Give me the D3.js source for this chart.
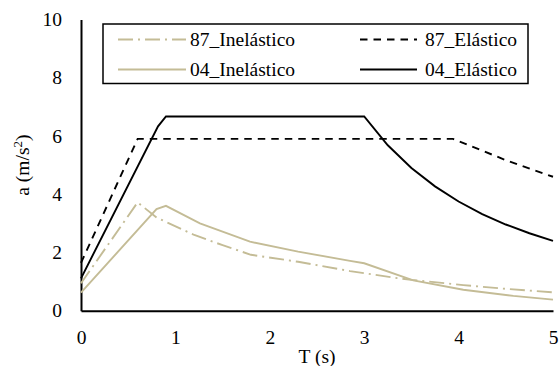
<!DOCTYPE html>
<html>
<head>
<meta charset="utf-8">
<script src="https://cdn.jsdelivr.net/npm/d3@7"></script>
<style>
  html, body { margin: 0; padding: 0; background: #fff; }
</style>
</head>
<body>
<div id="chart"></div>
<script>
var w = 560;
var h = 366;
var serif = "Liberation Serif";

// Periods (s) and spectral accelerations (m/s2)
var t87Inel = [0, 0.6, 0.8, 1.2, 1.5, 1.8, 2.3, 2.85, 3.35, 3.5, 4.05, 4.5, 5];
var a87Inel = [0.94, 3.72, 3.2, 2.6, 2.25, 1.92, 1.68, 1.36, 1.12, 1.06, 0.88, 0.75, 0.63];

var t87Elas = [0, 0.6, 3.94, 4.5, 5];
var a87Elas = [1.64, 5.9, 5.9, 5.17, 4.6];

var t04Inel = [0, 0.8, 0.9, 1.26, 1.79, 2.3, 2.85, 3.0, 3.52, 4.05, 4.58, 5];
var a04Inel = [0.62, 3.49, 3.6, 3.0, 2.37, 2.03, 1.71, 1.63, 1.04, 0.72, 0.51, 0.38];

var t04Elas = [0, 0.816, 0.9, 3.0, 3.25, 3.5, 3.75, 4.0, 4.25, 4.5, 4.75, 5];
var a04Elas = [1.11, 6.33, 6.67, 6.67, 5.68, 4.9, 4.27, 3.75, 3.32, 2.96, 2.66, 2.4];

var xTicks = [0, 1, 2, 3, 4, 5];
var yTicks = [0, 2, 4, 6, 8, 10];

var seriesNames = ["87_Inelástico", "87_Elástico", "04_Inelástico", "04_Elástico"];

var tan = "#c4bc96";
var series = [
    { name: seriesNames[0], t: t87Inel, a: a87Inel, color: tan, dash: "15,5,2,5" },
    { name: seriesNames[1], t: t87Elas, a: a87Elas, color: "#000", dash: "7.5,6" },
    { name: seriesNames[2], t: t04Inel, a: a04Inel, color: tan, dash: null },
    { name: seriesNames[3], t: t04Elas, a: a04Elas, color: "#000", dash: null }
];

var x = d3.scaleLinear().domain([0, 5]).range([81, 553]);
var y = d3.scaleLinear().domain([0, 10]).range([310.7, 19.5]);

var svg = d3.select("#chart").append("svg")
    .attr("width", w)
    .attr("height", h)
    .attr("font-family", serif);

// axes, no tick marks
var xAxis = svg.append("g")
    .attr("transform", "translate(0," + y(0) + ")")
    .call(d3.axisBottom(x).tickValues(xTicks).tickSize(0).tickPadding(19).tickFormat(d3.format("d")));
var yAxis = svg.append("g")
    .attr("transform", "translate(" + x(0) + ",0)")
    .call(d3.axisLeft(y).tickValues(yTicks).tickSize(0).tickPadding(19).tickFormat(d3.format("d")));

[xAxis, yAxis].forEach(function (g) {
    g.attr("font-family", serif).attr("font-size", 19.5);
    g.select(".domain").attr("stroke", "#000").attr("stroke-width", 2);
    g.selectAll("text").attr("fill", "#000").attr("font-family", serif);
});

// lines
var line = d3.line()
    .x(function (d) { return x(d[0]); })
    .y(function (d) { return y(d[1]); });

svg.append("g").selectAll("path")
    .data(series)
    .enter().append("path")
    .attr("d", function (s) { return line(d3.zip(s.t, s.a)); })
    .attr("fill", "none")
    .attr("stroke", function (s) { return s.color; })
    .attr("stroke-width", 1.9)
    .attr("stroke-dasharray", function (s) { return s.dash; });

// axis titles
svg.append("text")
    .attr("x", (x(0) + x(5)) / 2)
    .attr("y", 363)
    .attr("text-anchor", "middle")
    .attr("font-family", serif)
    .attr("font-size", 19.5)
    .text("T (s)");

var yTitle = svg.append("text")
    .attr("transform", "translate(29," + (y(0) + y(10)) / 2 + ") rotate(-90)")
    .attr("text-anchor", "middle")
    .attr("font-family", serif)
    .attr("font-size", 19.5);
yTitle.append("tspan").text("a (m/s");
yTitle.append("tspan").attr("dy", -7).attr("font-size", 13).text("2");
yTitle.append("tspan").attr("dy", 7).text(")");

// legend
var legend = svg.append("g");
legend.append("rect")
    .attr("x", 103).attr("y", 24)
    .attr("width", 425).attr("height", 59.5)
    .attr("fill", "#fff")
    .attr("stroke", "#000")
    .attr("stroke-width", 1.5);

var legX = [118, 360];
var legY = [39.5, 69.5];
var items = legend.selectAll("g.item")
    .data(series)
    .enter().append("g")
    .attr("class", "item")
    .attr("transform", function (s, i) { return "translate(" + legX[i % 2] + "," + legY[Math.floor(i / 2)] + ")"; });

items.append("line")
    .attr("x1", 0).attr("x2", function (s, i) { return i % 2 ? 57 : 68; })
    .attr("stroke", function (s) { return s.color; })
    .attr("stroke-width", 1.9)
    .attr("stroke-dasharray", function (s) { return s.dash; });

items.append("text")
    .attr("x", function (s, i) { return i % 2 ? 65 : 72; })
    .attr("dy", "0.35em")
    .attr("font-family", serif)
    .attr("font-size", 19.5)
    .text(function (s) { return s.name; });
</script>
</body>
</html>
